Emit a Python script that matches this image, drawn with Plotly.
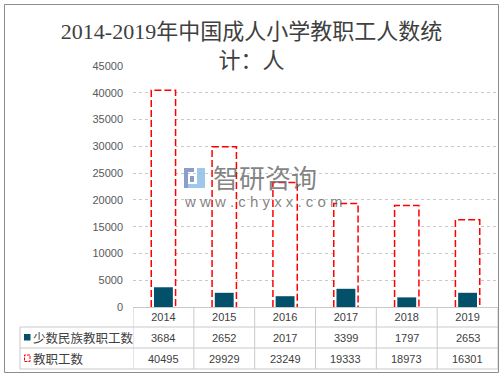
import plotly.graph_objects as go

years = ["2014", "2015", "2016", "2017", "2018", "2019"]
minority_staff = [3684, 2652, 2017, 3399, 1797, 2653]
total_staff = [40495, 29929, 23249, 19333, 18973, 16301]
series_names = ["少数民族教职工数", "教职工数"]
title_text = "2014-2019年中国成人小学教职工人数统<br>计：人"

W, H = 503, 378
L, R, T, B = 133, 5, 66, 71
PW, PH = W - L - R, H - T - B

def px(x):
    return (x - L) / PW

def py(y):
    return (H - B - y) / PH

TEAL = "#03506a"
RED = "#ff0000"
GRID = "#c9c9c9"
TXT = "#404040"

pos = list(range(len(years)))
ow = 0.2  # half width of outline bar

# dashed outline for total staff, built from data
ox, oy = [], []
for i, v in zip(pos, total_staff):
    ox += [i - ow, i - ow, i + ow, i + ow, None]
    oy += [0, v, v, 0, None]

fig = go.Figure()
fig.add_trace(go.Bar(x=pos, y=total_staff, width=2 * ow, marker=dict(color="white", line=dict(width=0)),
                     name=series_names[1], hoverinfo="skip", showlegend=False))
fig.add_trace(go.Scatter(x=ox, y=oy, mode="lines", line=dict(color=RED, width=1.5, dash="7px,3px"),
                         name=series_names[1], showlegend=False, hoverinfo="skip"))
fig.add_trace(go.Bar(x=pos, y=minority_staff, width=0.31, marker=dict(color=TEAL, line=dict(width=0)),
                     name=series_names[0], showlegend=False))

shapes = []
ann = []

# outer border
shapes.append(dict(type="rect", xref="paper", yref="paper", x0=px(4.5), x1=px(498.5), y0=py(4.5), y1=py(372.5),
                   line=dict(color="#8c8c8c", width=1), layer="below"))

# table lines
row_y = [307, 327, 348, 369]
for yy in row_y[1:]:
    shapes.append(dict(type="line", xref="paper", yref="paper", x0=px(20), x1=px(498), y0=py(yy), y1=py(yy),
                       line=dict(color=GRID, width=1)))
shapes.append(dict(type="line", xref="paper", yref="paper", x0=px(20), x1=px(20), y0=py(327), y1=py(369),
                   line=dict(color=GRID, width=1)))
for i in range(len(years) + 1):
    shapes.append(dict(type="line", xref="x", yref="paper", x0=i - 0.5, x1=i - 0.5, y0=py(307), y1=py(369),
                       line=dict(color=GRID, width=1)))

# table values
for i, (a, b) in enumerate(zip(minority_staff, total_staff)):
    ann.append(dict(x=i, y=py(337.5), xref="x", yref="paper", xanchor="center", yanchor="middle",
                    text=str(a), showarrow=False,
                    font=dict(size=11, color=TXT, family="Liberation Sans")))
    ann.append(dict(x=i, y=py(358.5), xref="x", yref="paper", xanchor="center", yanchor="middle",
                    text=str(b), showarrow=False,
                    font=dict(size=11, color=TXT, family="Liberation Sans")))

# row labels with legend keys
ann.append(dict(x=px(31), y=py(337.5), xref="paper", yref="paper", xanchor="left", yanchor="middle",
                text=series_names[0], showarrow=False,
                font=dict(size=12.5, color=TXT, family="Noto Sans CJK SC")))
ann.append(dict(x=px(31), y=py(358.5), xref="paper", yref="paper", xanchor="left", yanchor="middle",
                text=series_names[1], showarrow=False,
                font=dict(size=12.5, color=TXT, family="Noto Sans CJK SC")))
shapes.append(dict(type="rect", xref="paper", yref="paper", x0=px(24), x1=px(30.5), y0=py(340.5), y1=py(334),
                   fillcolor=TEAL, line=dict(width=0)))
shapes.append(dict(type="rect", xref="paper", yref="paper", x0=px(24.5), x1=px(30), y0=py(361.5), y1=py(355),
                   fillcolor="rgba(0,0,0,0)", line=dict(color=RED, width=1, dash="3px,1px")))

# watermark
ann.append(dict(x=px(211), y=py(176), xref="paper", yref="paper", xanchor="left", yanchor="middle",
                text="智研咨询", showarrow=False,
                font=dict(size=26, color="rgba(110,110,110,0.85)", family="Noto Sans CJK SC")))
ann.append(dict(x=px(182), y=py(201), xref="paper", yref="paper", xanchor="left", yanchor="middle",
                text="w w w . c h y x x . c o m", showarrow=False,
                font=dict(size=15, color="rgba(110,110,110,0.85)", family="Liberation Sans")))
logo = [(184, 168, 194, 172, "rgba(120,140,190,0.85)"), (184, 172, 188, 188, "rgba(120,140,190,0.85)"),
        (190, 176, 194, 182, "rgba(120,140,190,0.85)"), (197, 168, 205, 188, "rgba(140,190,230,0.85)"),
        (188, 184, 197, 188, "rgba(140,190,230,0.85)")]
for x0, y0, x1, y1, c in logo:
    shapes.append(dict(type="rect", xref="paper", yref="paper", x0=px(x0), x1=px(x1), y0=py(y0), y1=py(y1),
                       fillcolor=c, line=dict(width=0)))

fig.update_layout(
    width=W, height=H,
    margin=dict(l=L, r=R, t=T, b=B),
    paper_bgcolor="white", plot_bgcolor="white",
    barmode="overlay",
    showlegend=False,
    title=dict(text=title_text, x=0.5, xanchor="center", xref="container", y=1 - 39 / H, yanchor="top",
               font=dict(size=22, color=TXT, family="Liberation Serif, Noto Sans CJK SC")),
    xaxis=dict(range=[-0.5, 5.5], tickmode="array", tickvals=pos, ticktext=years, showgrid=False,
               zeroline=False, showline=True, linecolor=GRID, ticks="", ticklen=0,
               tickfont=dict(size=11, color=TXT, family="Liberation Sans")),
    yaxis=dict(range=[0, 45000], dtick=5000, showgrid=True, gridcolor=GRID, griddash="dot", gridwidth=1,
               zeroline=False, showline=False, ticks="", tickformat="d", ticklabelstandoff=9,
               tickfont=dict(size=11, color="#595959", family="Liberation Sans")),
    shapes=shapes, annotations=ann,
    font=dict(family="Liberation Sans"),
)
fig.update_xaxes(automargin=False)
fig.update_yaxes(automargin=False)

fig.write_html("out.html", config={"displayModeBar": False},
               post_script="document.body.style.margin='0';")
